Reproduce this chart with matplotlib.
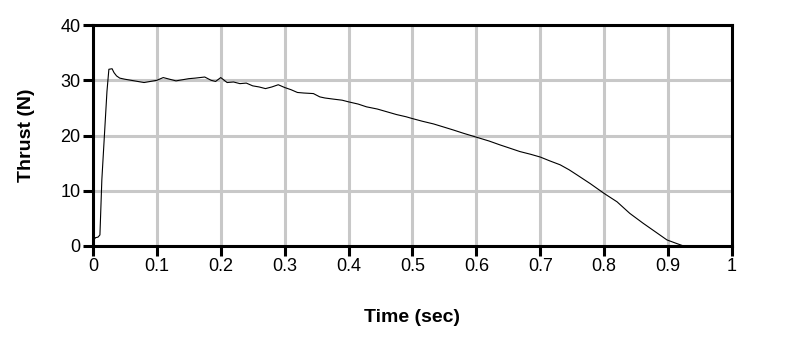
import matplotlib.pyplot as plt
from matplotlib.ticker import MultipleLocator

# thrust curve
time = [0.0, 0.004, 0.008, 0.011, 0.014, 0.018, 0.022, 0.025, 0.030, 0.033,
        0.037, 0.042, 0.050, 0.060, 0.070, 0.080, 0.090, 0.100, 0.110, 0.120,
        0.130, 0.140, 0.150, 0.160, 0.175, 0.185, 0.192, 0.200, 0.210, 0.220,
        0.230, 0.240, 0.250, 0.260, 0.270, 0.280, 0.290, 0.300, 0.310, 0.320,
        0.330, 0.345, 0.355, 0.363, 0.376, 0.390, 0.400, 0.415, 0.428, 0.445,
        0.460, 0.475, 0.490, 0.499, 0.515, 0.533, 0.550, 0.564, 0.580, 0.600,
        0.620, 0.637, 0.650, 0.668, 0.685, 0.700, 0.715, 0.731, 0.745, 0.757,
        0.778, 0.800, 0.820, 0.840, 0.861, 0.882, 0.898, 0.912, 0.924]
thrust = [0.8, 1.5, 1.6, 2.0, 12.0, 20.0, 28.0, 32.0, 32.1, 31.4,
          30.8, 30.4, 30.2, 30.0, 29.8, 29.6, 29.8, 30.0, 30.5, 30.2,
          29.9, 30.1, 30.3, 30.4, 30.6, 30.0, 29.8, 30.5, 29.6, 29.7,
          29.4, 29.5, 29.0, 28.8, 28.5, 28.8, 29.2, 28.7, 28.3, 27.8,
          27.7, 27.6, 27.0, 26.8, 26.6, 26.4, 26.1, 25.7, 25.2, 24.8,
          24.3, 23.8, 23.4, 23.1, 22.6, 22.1, 21.5, 21.0, 20.4, 19.7,
          19.0, 18.3, 17.8, 17.1, 16.6, 16.1, 15.4, 14.7, 13.8, 12.9,
          11.3, 9.5, 8.0, 5.9, 4.1, 2.4, 1.1, 0.5, 0.0]

xticks = [0, 0.1, 0.2, 0.3, 0.4, 0.5, 0.6, 0.7, 0.8, 0.9, 1]
xticklabels = ['0', '0.1', '0.2', '0.3', '0.4', '0.5', '0.6', '0.7', '0.8', '0.9', '1']
yticks = [0, 10, 20, 30, 40]

plt.rcParams['font.family'] = ['Liberation Sans', 'DejaVu Sans']

fig = plt.figure(figsize=(7.94, 3.44), dpi=100)
ax = fig.add_axes([0.117, 0.285, 0.805, 0.642])

ax.plot(time, thrust, color='black', linewidth=0.8, zorder=3)

ax.set_xlim(0, 1)
ax.set_ylim(0, 40)
ax.set_xticks(xticks)
ax.set_xticklabels(xticklabels)
ax.set_yticks(yticks)
ax.grid(True, color='#c8c8c8', linewidth=2.2)
ax.set_axisbelow(True)

for side in ['left', 'right', 'top', 'bottom']:
    ax.spines[side].set_linewidth(2.2)
    ax.spines[side].set_color('black')

ax.tick_params(direction='out', length=7, width=2.2, labelsize=13, pad=2)

ax.set_xlabel('Time (sec)', fontsize=14, fontweight='bold', labelpad=24)
ax.set_ylabel('Thrust (N)', fontsize=14, fontweight='bold', labelpad=18)

plt.savefig('out.png', dpi=100)
